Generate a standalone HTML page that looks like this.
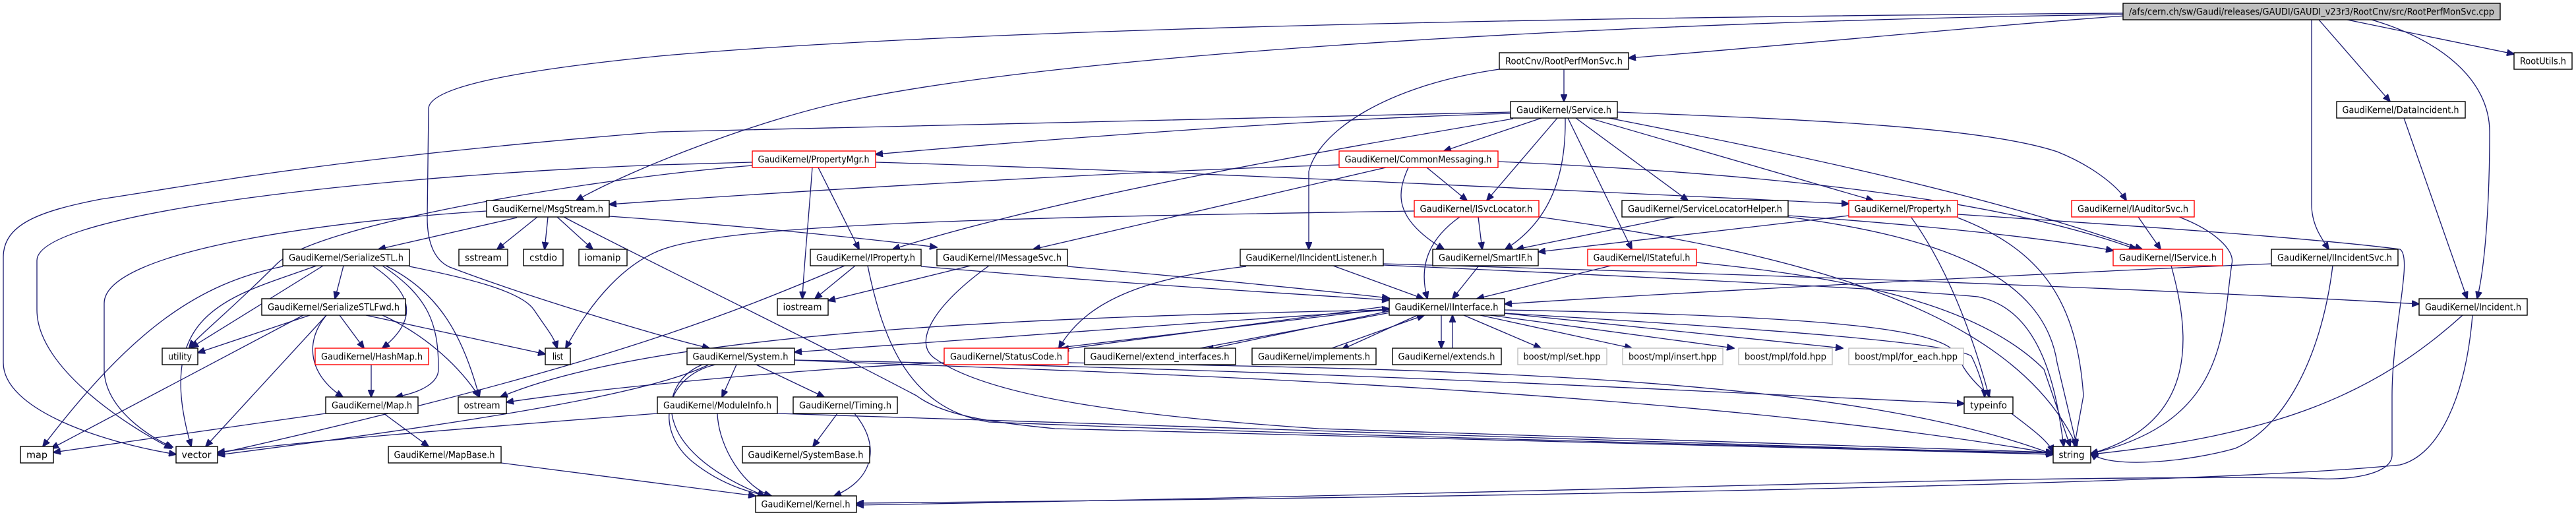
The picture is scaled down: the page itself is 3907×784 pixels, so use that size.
<!DOCTYPE html>
<html><head><meta charset="utf-8"><style>
html,body{margin:0;padding:0;background:#fff}
svg{display:block}
text{font-family:"DejaVu Sans Condensed","Liberation Sans Narrow","Liberation Sans",sans-serif;font-size:14px;fill:#000}
.n{fill:#fff;stroke:#000;stroke-width:1.4}
.r{fill:#fff;stroke:#f00;stroke-width:1.4}
.g{fill:#fff;stroke:#bfbfbf;stroke-width:1.4}
.e{fill:none;stroke:#191970;stroke-width:1.3}
</style></head><body>
<svg width="3907" height="784" viewBox="0 0 3907 784" xmlns="http://www.w3.org/2000/svg">
<defs><marker id="a" markerWidth="12" markerHeight="10" refX="11" refY="5" orient="auto" markerUnits="userSpaceOnUse"><path d="M0,0 L12,5 L0,10 z" fill="#191970" stroke="#191970"/></marker></defs>
<g class="e" marker-end="url(#a)">
<path d="M3222,24 C3000,40 2700,70 2470,88"/>
<path d="M3560,30 L3813,82"/>
<path d="M3517,30 L3625,154"/>
<path d="M3506,30 C3506,150 3506,280 3506,310 C3506,340 3520,360 3532,378"/>
<path d="M3597,30 C3700,60 3776,120 3776,200 C3776,300 3770,400 3757,453"/>
<path d="M3222,22 C2600,30 1700,70 1300,150 C1150,180 950,260 874,304"/>
<path d="M3222,20 C2500,25 1500,40 1000,85 C800,105 650,130 650,165 L648,330 C648,370 660,395 682,405 C800,450 1000,510 1076,528"/>
<path d="M3750,478 C3740,600 3700,690 3640,705 C3400,730 2500,752 1299,763"/>
<path d="M2969,325 C3200,340 3500,360 3640,378 C3660,390 3628,500 3628,600 L3628,690 C3628,720 3560,730 3500,725 C3000,720 2500,745 1299,766"/>
<path d="M2291,170 L1000,200 C500,240 300,280 153,302 C60,320 5,340 5,390 L5,550 C5,620 150,670 267,689"/>
<path d="M1141,246 L1000,250 C600,265 56,320 56,395 L56,470 C56,560 200,650 260,680"/>
<path d="M1141,251 C900,270 480,340 420,400 C350,470 300,510 287,527"/>
<path d="M2031,250 C1700,260 1200,290 924,310"/>
<path d="M738,320 C500,335 158,380 158,460 L158,560 C158,620 230,665 262,678"/>
<path d="M784,330 L574,378"/>
<path d="M815,329 L754,378"/>
<path d="M831,329 L826,378"/>
<path d="M845,329 L899,378"/>
<path d="M855,329 C950,380 1200,500 1390,600 C1430,630 1500,640 1600,650 L3114,689"/>
<path d="M924,328 C1100,340 1300,360 1421,375"/>
<path d="M2145,320 C1500,330 1100,340 1000,380 C950,400 900,450 858,528"/>
<path d="M2107,470 C1600,480 1000,500 759,602"/>
<path d="M1432,550 C1200,560 900,590 768,610"/>
<path d="M997,627 C700,650 450,670 330,686"/>
<path d="M1075,553 C1000,590 800,630 330,690"/>
<path d="M1281,403 C1100,480 900,560 330,688"/>
<path d="M429,404 C300,430 200,500 65,677"/>
<path d="M480,403 C350,450 230,470 290,677"/>
<path d="M490,403 L290,527"/>
<path d="M521,403 L508,453"/>
<path d="M565,403 C620,440 640,480 580,528"/>
<path d="M580,403 C650,450 665,490 665,560 C665,580 640,595 600,602"/>
<path d="M585,403 C660,440 700,500 727,602"/>
<path d="M621,404 C700,420 790,440 810,470 C830,500 840,510 845,528"/>
<path d="M470,478 L300,535"/>
<path d="M460,478 L78,680"/>
<path d="M495,478 L312,677"/>
<path d="M515,478 L552,528"/>
<path d="M495,478 C460,520 470,570 520,602"/>
<path d="M555,478 L827,537"/>
<path d="M580,478 C650,510 700,560 727,602"/>
<path d="M563,553 L563,602"/>
<path d="M494,627 L81,686"/>
<path d="M582,627 L650,677"/>
<path d="M760,702 C900,720 1050,740 1146,752"/>
<path d="M1232,254 C1225,350 1218,420 1217,453"/>
<path d="M1241,254 L1303,378"/>
<path d="M1328,246 C1800,260 2400,290 2804,309"/>
<path d="M1297,403 L1236,453"/>
<path d="M1472,403 L1256,456"/>
<path d="M1316,403 C1340,520 1380,620 1500,640 C2000,660 2800,680 3114,687"/>
<path d="M1397,404 C1700,430 1950,445 2107,455"/>
<path d="M1619,404 C1800,420 2000,440 2107,452"/>
<path d="M1500,403 C1420,460 1380,520 1420,545 C1500,600 1700,630 2000,650 L3114,686"/>
<path d="M1890,404 C1750,420 1650,450 1606,528"/>
<path d="M2022,403 L2159,453"/>
<path d="M2098,402 C2500,420 2900,440 3000,450 C3100,470 3120,600 3130,677"/>
<path d="M2295,180 C2000,230 1600,300 1354,378"/>
<path d="M2102,254 L1567,378"/>
<path d="M2291,172 C2000,180 1600,210 1328,234"/>
<path d="M2107,470 C1800,490 1400,520 1205,534"/>
<path d="M1117,553 L1095,602"/>
<path d="M1147,553 L1250,602"/>
<path d="M1205,546 C1500,560 2500,580 3114,688"/>
<path d="M1205,546 C2000,560 2700,600 2979,612"/>
<path d="M1085,553 C1010,570 990,650 1050,700 C1100,740 1150,750 1170,752"/>
<path d="M1065,553 C1000,580 980,680 1160,752"/>
<path d="M1600,528 L2107,468"/>
<path d="M2100,465 L1610,530"/>
<path d="M1820,528 L2130,470"/>
<path d="M2125,468 L1830,530"/>
<path d="M2020,528 L2160,478"/>
<path d="M2150,478 L2035,530"/>
<path d="M2186,478 L2186,528"/>
<path d="M2203,528 L2203,478"/>
<path d="M2220,478 L2337,528"/>
<path d="M2245,478 L2475,528"/>
<path d="M2260,478 L2630,528"/>
<path d="M2280,475 L2795,528"/>
<path d="M1620,550 C2200,560 2800,570 3114,689"/>
<path d="M1088,627 C1090,680 1130,740 1170,752"/>
<path d="M1179,627 L3114,689"/>
<path d="M1270,627 L1233,677"/>
<path d="M1296,627 C1340,680 1320,730 1265,752"/>
<path d="M2372,105 L2372,154"/>
<path d="M2274,105 C2100,130 2000,200 1985,260 L1985,378"/>
<path d="M2338,179 L2190,229"/>
<path d="M2362,179 L2255,304"/>
<path d="M2374,179 C2375,250 2360,330 2283,378"/>
<path d="M2378,179 L2475,378"/>
<path d="M2390,179 L2560,304"/>
<path d="M2410,179 L2841,304"/>
<path d="M2440,179 C2700,230 3000,290 3249,378"/>
<path d="M2453,170 C2700,180 3000,190 3120,230 C3170,250 3210,280 3225,304"/>
<path d="M2164,254 L2225,304"/>
<path d="M2136,254 C2120,290 2110,330 2190,378"/>
<path d="M2272,245 C2600,260 3000,290 3240,378"/>
<path d="M2242,329 L2248,378"/>
<path d="M2214,329 C2170,360 2150,400 2165,453"/>
<path d="M2334,329 C2700,380 3050,460 3150,677"/>
<path d="M2540,329 L2300,378"/>
<path d="M2712,327 C2900,340 3100,360 3205,380"/>
<path d="M2712,329 C2950,360 3100,420 3120,550 L3150,677"/>
<path d="M2804,327 L2333,382"/>
<path d="M2899,330 C2950,400 2990,500 3017,602"/>
<path d="M2969,330 C3100,380 3150,460 3160,600 L3146,677"/>
<path d="M2243,403 L2203,453"/>
<path d="M2443,403 L2240,453"/>
<path d="M2573,398 C2800,420 3000,460 3100,560 L3140,677"/>
<path d="M2282,470 C2800,480 2950,500 2970,540 C2990,600 3100,650 3114,686"/>
<path d="M2282,475 C2700,500 2960,520 2990,540 C3000,560 3010,590 3010,602"/>
<path d="M3445,400 C3200,410 2600,440 2282,461"/>
<path d="M3538,403 C3520,550 3460,650 3390,680 C3320,700 3200,712 3171,687"/>
<path d="M3243,329 L3277,378"/>
<path d="M3305,329 C3360,350 3390,380 3385,400 C3370,500 3380,640 3171,688"/>
<path d="M3293,403 C3320,500 3340,640 3171,688"/>
<path d="M3646,179 L3742,453"/>
<path d="M3735,478 C3600,600 3450,660 3171,689"/>
<path d="M2098,400 C2800,420 3300,440 3669,461"/>
</g>
<g>
<rect x="3220" y="5" width="572" height="25" fill="#bfbfbf" stroke="#000" stroke-width="1.4"/><text x="3506" y="22.5" text-anchor="middle" textLength="554" lengthAdjust="spacingAndGlyphs">/afs/cern.ch/sw/Gaudi/releases/GAUDI/GAUDI_v23r3/RootCnv/src/RootPerfMonSvc.cpp</text>
<rect class="n" x="2274" y="80" width="196" height="25"/><text x="2372" y="97.5" text-anchor="middle" textLength="178" lengthAdjust="spacingAndGlyphs">RootCnv/RootPerfMonSvc.h</text>
<rect class="n" x="3813" y="80" width="88" height="25"/><text x="3857" y="97.5" text-anchor="middle" textLength="70" lengthAdjust="spacingAndGlyphs">RootUtils.h</text>
<rect class="n" x="2291" y="154" width="162" height="25"/><text x="2372" y="171.5" text-anchor="middle" textLength="144" lengthAdjust="spacingAndGlyphs">GaudiKernel/Service.h</text>
<rect class="n" x="3544" y="154" width="195" height="25"/><text x="3641" y="171.5" text-anchor="middle" textLength="177" lengthAdjust="spacingAndGlyphs">GaudiKernel/DataIncident.h</text>
<rect class="r" x="1141" y="229" width="187" height="25"/><text x="1234" y="246.5" text-anchor="middle" textLength="169" lengthAdjust="spacingAndGlyphs">GaudiKernel/PropertyMgr.h</text>
<rect class="r" x="2031" y="229" width="241" height="25"/><text x="2151" y="246.5" text-anchor="middle" textLength="223" lengthAdjust="spacingAndGlyphs">GaudiKernel/CommonMessaging.h</text>
<rect class="n" x="738" y="304" width="186" height="25"/><text x="831" y="321.5" text-anchor="middle" textLength="168" lengthAdjust="spacingAndGlyphs">GaudiKernel/MsgStream.h</text>
<rect class="r" x="2145" y="304" width="189" height="25"/><text x="2239" y="321.5" text-anchor="middle" textLength="171" lengthAdjust="spacingAndGlyphs">GaudiKernel/ISvcLocator.h</text>
<rect class="n" x="2460" y="304" width="252" height="25"/><text x="2586" y="321.5" text-anchor="middle" textLength="234" lengthAdjust="spacingAndGlyphs">GaudiKernel/ServiceLocatorHelper.h</text>
<rect class="r" x="2804" y="304" width="165" height="25"/><text x="2886" y="321.5" text-anchor="middle" textLength="147" lengthAdjust="spacingAndGlyphs">GaudiKernel/Property.h</text>
<rect class="r" x="3142" y="304" width="186" height="25"/><text x="3235" y="321.5" text-anchor="middle" textLength="168" lengthAdjust="spacingAndGlyphs">GaudiKernel/IAuditorSvc.h</text>
<rect class="n" x="429" y="378" width="192" height="25"/><text x="525" y="395.5" text-anchor="middle" textLength="174" lengthAdjust="spacingAndGlyphs">GaudiKernel/SerializeSTL.h</text>
<rect class="n" x="1229" y="378" width="168" height="25"/><text x="1313" y="395.5" text-anchor="middle" textLength="150" lengthAdjust="spacingAndGlyphs">GaudiKernel/IProperty.h</text>
<rect class="n" x="1421" y="378" width="198" height="25"/><text x="1520" y="395.5" text-anchor="middle" textLength="180" lengthAdjust="spacingAndGlyphs">GaudiKernel/IMessageSvc.h</text>
<rect class="n" x="1881" y="378" width="217" height="25"/><text x="1989" y="395.5" text-anchor="middle" textLength="199" lengthAdjust="spacingAndGlyphs">GaudiKernel/IIncidentListener.h</text>
<rect class="n" x="2173" y="378" width="160" height="25"/><text x="2253" y="395.5" text-anchor="middle" textLength="142" lengthAdjust="spacingAndGlyphs">GaudiKernel/SmartIF.h</text>
<rect class="r" x="2408" y="378" width="165" height="25"/><text x="2490" y="395.5" text-anchor="middle" textLength="147" lengthAdjust="spacingAndGlyphs">GaudiKernel/IStateful.h</text>
<rect class="r" x="3205" y="378" width="166" height="25"/><text x="3288" y="395.5" text-anchor="middle" textLength="148" lengthAdjust="spacingAndGlyphs">GaudiKernel/IService.h</text>
<rect class="n" x="3445" y="378" width="192" height="25"/><text x="3541" y="395.5" text-anchor="middle" textLength="174" lengthAdjust="spacingAndGlyphs">GaudiKernel/IIncidentSvc.h</text>
<rect class="n" x="696" y="378" width="74" height="25"/><text x="733" y="395.5" text-anchor="middle" textLength="56" lengthAdjust="spacingAndGlyphs">sstream</text>
<rect class="n" x="794" y="378" width="60" height="25"/><text x="824" y="395.5" text-anchor="middle" textLength="42" lengthAdjust="spacingAndGlyphs">cstdio</text>
<rect class="n" x="878" y="378" width="73" height="25"/><text x="914" y="395.5" text-anchor="middle" textLength="55" lengthAdjust="spacingAndGlyphs">iomanip</text>
<rect class="n" x="397" y="453" width="218" height="25"/><text x="506" y="470.5" text-anchor="middle" textLength="200" lengthAdjust="spacingAndGlyphs">GaudiKernel/SerializeSTLFwd.h</text>
<rect class="n" x="1179" y="453" width="77" height="25"/><text x="1217" y="470.5" text-anchor="middle" textLength="59" lengthAdjust="spacingAndGlyphs">iostream</text>
<rect class="n" x="2107" y="453" width="175" height="25"/><text x="2194" y="470.5" text-anchor="middle" textLength="157" lengthAdjust="spacingAndGlyphs">GaudiKernel/IInterface.h</text>
<rect class="n" x="3669" y="453" width="164" height="25"/><text x="3751" y="470.5" text-anchor="middle" textLength="146" lengthAdjust="spacingAndGlyphs">GaudiKernel/Incident.h</text>
<rect class="n" x="246" y="528" width="54" height="25"/><text x="273" y="545.5" text-anchor="middle" textLength="36" lengthAdjust="spacingAndGlyphs">utility</text>
<rect class="r" x="478" y="528" width="172" height="25"/><text x="564" y="545.5" text-anchor="middle" textLength="154" lengthAdjust="spacingAndGlyphs">GaudiKernel/HashMap.h</text>
<rect class="n" x="827" y="528" width="38" height="25"/><text x="846" y="545.5" text-anchor="middle" textLength="16" lengthAdjust="spacingAndGlyphs">list</text>
<rect class="n" x="1042" y="528" width="163" height="25"/><text x="1123" y="545.5" text-anchor="middle" textLength="145" lengthAdjust="spacingAndGlyphs">GaudiKernel/System.h</text>
<rect class="r" x="1432" y="528" width="188" height="25"/><text x="1526" y="545.5" text-anchor="middle" textLength="170" lengthAdjust="spacingAndGlyphs">GaudiKernel/StatusCode.h</text>
<rect class="n" x="1645" y="528" width="229" height="25"/><text x="1759" y="545.5" text-anchor="middle" textLength="211" lengthAdjust="spacingAndGlyphs">GaudiKernel/extend_interfaces.h</text>
<rect class="n" x="1899" y="528" width="188" height="25"/><text x="1993" y="545.5" text-anchor="middle" textLength="170" lengthAdjust="spacingAndGlyphs">GaudiKernel/implements.h</text>
<rect class="n" x="2112" y="528" width="165" height="25"/><text x="2194" y="545.5" text-anchor="middle" textLength="147" lengthAdjust="spacingAndGlyphs">GaudiKernel/extends.h</text>
<rect class="g" x="2302" y="528" width="135" height="25"/><text x="2369" y="545.5" text-anchor="middle" textLength="117" lengthAdjust="spacingAndGlyphs">boost/mpl/set.hpp</text>
<rect class="g" x="2461" y="528" width="152" height="25"/><text x="2537" y="545.5" text-anchor="middle" textLength="134" lengthAdjust="spacingAndGlyphs">boost/mpl/insert.hpp</text>
<rect class="g" x="2637" y="528" width="142" height="25"/><text x="2708" y="545.5" text-anchor="middle" textLength="124" lengthAdjust="spacingAndGlyphs">boost/mpl/fold.hpp</text>
<rect class="g" x="2804" y="528" width="174" height="25"/><text x="2891" y="545.5" text-anchor="middle" textLength="156" lengthAdjust="spacingAndGlyphs">boost/mpl/for_each.hpp</text>
<rect class="n" x="494" y="602" width="140" height="25"/><text x="564" y="619.5" text-anchor="middle" textLength="122" lengthAdjust="spacingAndGlyphs">GaudiKernel/Map.h</text>
<rect class="n" x="695" y="602" width="73" height="25"/><text x="731" y="619.5" text-anchor="middle" textLength="55" lengthAdjust="spacingAndGlyphs">ostream</text>
<rect class="n" x="997" y="602" width="182" height="25"/><text x="1088" y="619.5" text-anchor="middle" textLength="164" lengthAdjust="spacingAndGlyphs">GaudiKernel/ModuleInfo.h</text>
<rect class="n" x="1203" y="602" width="158" height="25"/><text x="1282" y="619.5" text-anchor="middle" textLength="140" lengthAdjust="spacingAndGlyphs">GaudiKernel/Timing.h</text>
<rect class="n" x="2979" y="602" width="74" height="25"/><text x="3016" y="619.5" text-anchor="middle" textLength="56" lengthAdjust="spacingAndGlyphs">typeinfo</text>
<rect class="n" x="31" y="677" width="50" height="25"/><text x="56" y="694.5" text-anchor="middle" textLength="32" lengthAdjust="spacingAndGlyphs">map</text>
<rect class="n" x="267" y="677" width="63" height="25"/><text x="298" y="694.5" text-anchor="middle" textLength="45" lengthAdjust="spacingAndGlyphs">vector</text>
<rect class="n" x="589" y="677" width="171" height="25"/><text x="674" y="694.5" text-anchor="middle" textLength="153" lengthAdjust="spacingAndGlyphs">GaudiKernel/MapBase.h</text>
<rect class="n" x="1126" y="677" width="193" height="25"/><text x="1222" y="694.5" text-anchor="middle" textLength="175" lengthAdjust="spacingAndGlyphs">GaudiKernel/SystemBase.h</text>
<rect class="n" x="3114" y="677" width="57" height="25"/><text x="3142" y="694.5" text-anchor="middle" textLength="39" lengthAdjust="spacingAndGlyphs">string</text>
<rect class="n" x="1146" y="752" width="153" height="25"/><text x="1222" y="769.5" text-anchor="middle" textLength="135" lengthAdjust="spacingAndGlyphs">GaudiKernel/Kernel.h</text>
</g>
</svg>
</body></html>
